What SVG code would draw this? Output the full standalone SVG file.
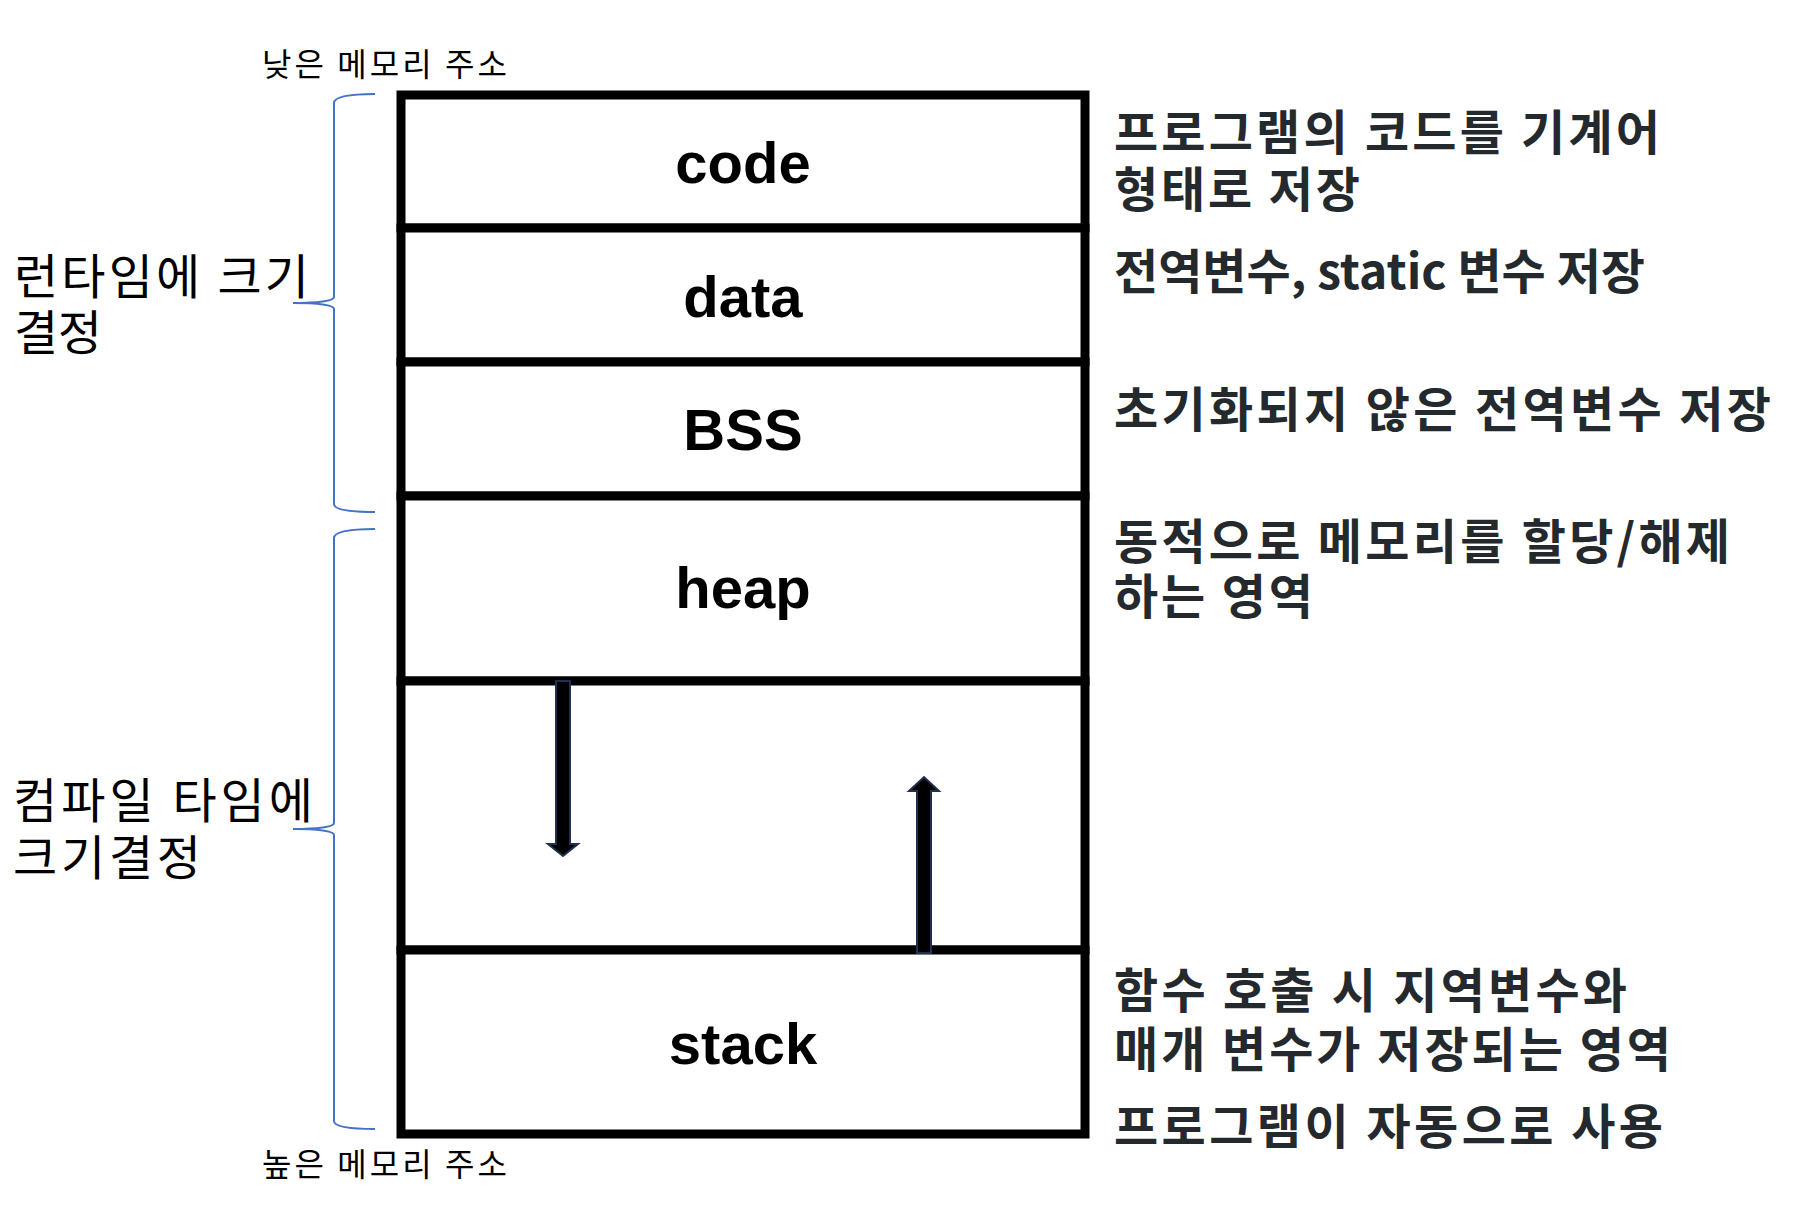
<svg xmlns="http://www.w3.org/2000/svg" width="1798" height="1224" viewBox="0 0 1798 1224">
<style>
  .seg { fill: #ffffff; stroke: #000000; stroke-width: 9; }
  .lbl { font-family: "Liberation Sans", Arial, sans-serif; font-weight: bold; font-size: 58px; fill: #000000; text-anchor: middle; }
  .desc { font-family: "Noto Sans CJK KR", "Noto Sans", sans-serif; font-weight: bold; font-size: 48px; fill: #24292e; }
  .side { font-family: "Noto Sans CJK KR", "Noto Sans", sans-serif; font-weight: normal; font-size: 48px; fill: #000000; }
  .addr { font-family: "Noto Sans CJK KR", "Noto Sans", sans-serif; font-weight: normal; font-size: 32px; fill: #000000; }
  .brace { fill: none; stroke: #4472c4; stroke-width: 2; }
  .arrow { fill: #000000; stroke: #1f3050; stroke-width: 2; stroke-linejoin: miter; }
</style>
<rect x="0" y="0" width="1798" height="1224" fill="#ffffff"/>

<g id="code">
  <rect class="seg" x="401" y="95" width="684" height="133"/>
  <text class="lbl" x="743" y="183">code</text>
</g>
<g id="data">
  <rect class="seg" x="401" y="228" width="684" height="134"/>
  <text class="lbl" x="743" y="317">data</text>
</g>
<g id="bss">
  <rect class="seg" x="401" y="362" width="684" height="134"/>
  <text class="lbl" x="743" y="450">BSS</text>
</g>
<g id="heap">
  <rect class="seg" x="401" y="496" width="684" height="185"/>
  <text class="lbl" x="743" y="608">heap</text>
</g>
<g id="free">
  <rect class="seg" x="401" y="681" width="684" height="269"/>
</g>
<g id="stack">
  <rect class="seg" x="401" y="950" width="684" height="184"/>
  <text class="lbl" x="743" y="1064">stack</text>
</g>

<g id="connectors">
  <polygon class="arrow" points="556,681 570,681 570,844 578,844 563,856 548,844 556,844"/>
  <polygon class="arrow" points="917,953 931,953 931,791 939,791 924,777 909,791 917,791"/>
</g>

<g id="braces">
  <path class="brace" d="M375,94 C352,94 334,96 334,103 L334,297 C334,301 318,303 293,303 C318,303 334,305 334,309 L334,504 C334,510 352,512 375,512"/>
  <path class="brace" d="M375,529 C352,529 334,531 334,538 L334,823 C334,827 318,829 293,829 C318,829 334,831 334,835 L334,1121 C334,1127 352,1129 375,1129"/>
</g>

<g id="address-labels">
  <text class="addr" x="262" y="76" textLength="245">낮은 메모리 주소</text>
  <text class="addr" x="262" y="1176" textLength="245">높은 메모리 주소</text>
</g>

<g id="side-labels">
  <text class="side" x="14" y="294" textLength="295">런타임에 크기</text>
  <text class="side" x="14" y="350" textLength="88">결정</text>
  <text class="side" x="13" y="818" textLength="300">컴파일 타임에</text>
  <text class="side" x="13" y="875" textLength="188">크기결정</text>
</g>

<g id="descriptions">
  <text class="desc" x="1114" y="150" textLength="546">프로그램의 코드를 기계어</text>
  <text class="desc" x="1114" y="207" textLength="246">형태로 저장</text>
  <text class="desc" x="1114" y="289" textLength="531">전역변수, static 변수 저장</text>
  <text class="desc" x="1114" y="427" textLength="657">초기화되지 않은 전역변수 저장</text>
  <text class="desc" x="1114" y="559" textLength="616">동적으로 메모리를 할당/해제</text>
  <text class="desc" x="1114" y="614" textLength="199">하는 영역</text>
  <text class="desc" x="1114" y="1008" textLength="513">함수 호출 시 지역변수와</text>
  <text class="desc" x="1114" y="1067" textLength="557">매개 변수가 저장되는 영역</text>
  <text class="desc" x="1114" y="1144" textLength="549">프로그램이 자동으로 사용</text>
</g>
</svg>
